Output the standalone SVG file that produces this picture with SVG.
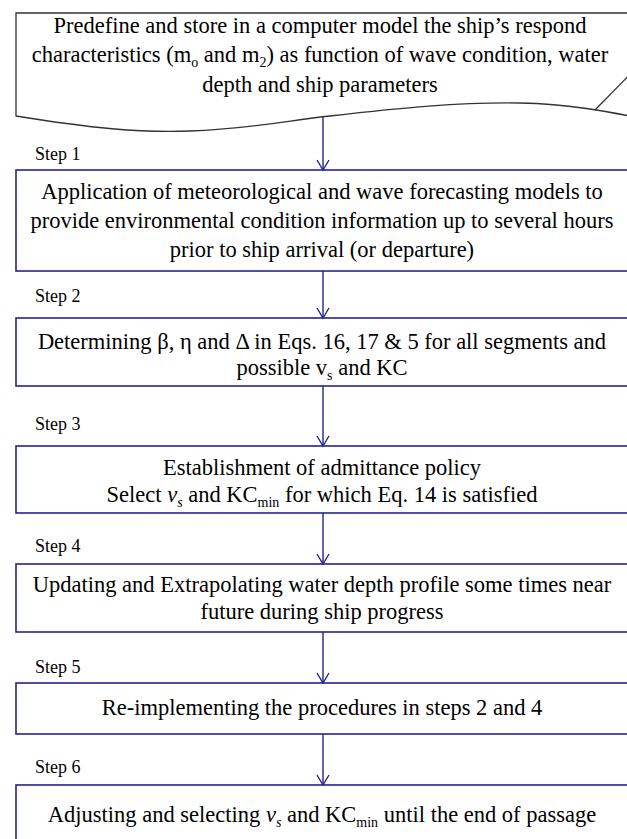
<svg xmlns="http://www.w3.org/2000/svg" width="627" height="839" viewBox="0 0 627 839">
<style>
  .box { fill: #ffffff; stroke: #23238e; stroke-width: 1.6; }
  .doc { fill: #ffffff; stroke: #333333; stroke-width: 1.3; }
  .t { font-family: "Liberation Serif", "Times New Roman", Times, serif; font-size: 22.5px; fill: #000; text-anchor: middle; }
  .step { font-family: "Liberation Serif", "Times New Roman", Times, serif; font-size: 18px; fill: #000; }
  .sub { font-size: 14px; }
  .it { font-style: italic; }
  .conn { stroke: #23238e; stroke-width: 1.4; fill: none; marker-end: url(#arr); }
</style>
<defs>
  <marker id="arr" viewBox="0 0 12 14" refX="11" refY="7" markerWidth="12" markerHeight="14" markerUnits="userSpaceOnUse" orient="auto">
    <path d="M1,1 L11,7 L1,13" fill="none" stroke="#23238e" stroke-width="1.4"/>
  </marker>
</defs>
<rect width="627" height="839" fill="#ffffff"/>

<g id="node-start">
  <path class="doc" d="M16,13 L645,13 L645,119 C610,112 570,104 520,103 C460,102 400,108 330,116 C290,120 250,129 190,131 C140,133 90,128 16,116 Z"/>
  <line x1="595" y1="110" x2="645" y2="59" stroke="#333333" stroke-width="1.3"/>
  <text class="t" x="320" y="33">Predefine and store in a computer model the ship’s respond</text>
  <text class="t" x="320" y="62">characteristics (m<tspan class="sub" dy="5">o</tspan><tspan dy="-5"> and m</tspan><tspan class="sub" dy="5">2</tspan><tspan dy="-5">) as function of wave condition, water</tspan></text>
  <text class="t" x="320" y="92">depth and ship parameters</text>
</g>

<g id="node-step1">
  <text class="step" x="35" y="160">Step 1</text>
  <rect class="box" x="16" y="170" width="630" height="101"/>
  <text class="t" x="322" y="199">Application of meteorological and wave forecasting models to</text>
  <text class="t" x="322" y="228">provide environmental condition information up to several hours</text>
  <text class="t" x="322" y="257">prior to ship arrival (or departure)</text>
</g>

<g id="node-step2">
  <text class="step" x="35" y="302">Step 2</text>
  <rect class="box" x="16" y="318" width="630" height="68"/>
  <text class="t" x="322" y="349">Determining β, η and Δ in Eqs. 16, 17 &amp; 5 for all segments and</text>
  <text class="t" x="322" y="375">possible v<tspan class="sub" dy="5">s</tspan><tspan dy="-5"> and KC</tspan></text>
</g>

<g id="node-step3">
  <text class="step" x="35" y="430">Step 3</text>
  <rect class="box" x="16" y="446" width="630" height="67"/>
  <text class="t" x="322" y="475">Establishment of admittance policy</text>
  <text class="t" x="322" y="502">Select <tspan class="it">v</tspan><tspan class="sub it" dy="5">s</tspan><tspan dy="-5"> and KC</tspan><tspan class="sub" dy="5">min</tspan><tspan dy="-5">  for which Eq. 14 is satisfied</tspan></text>
</g>

<g id="node-step4">
  <text class="step" x="35" y="552">Step 4</text>
  <rect class="box" x="16" y="564" width="630" height="68"/>
  <text class="t" x="322" y="592">Updating and Extrapolating water depth profile some times near</text>
  <text class="t" x="322" y="619">future during ship progress</text>
</g>

<g id="node-step5">
  <text class="step" x="35" y="673">Step 5</text>
  <rect class="box" x="16" y="683" width="630" height="51"/>
  <text class="t" x="322" y="715">Re-implementing the procedures in steps 2 and 4</text>
</g>

<g id="node-step6">
  <text class="step" x="35" y="773">Step 6</text>
  <rect class="box" x="16" y="785" width="630" height="70"/>
  <text class="t" x="322" y="822">Adjusting and selecting <tspan class="it">v</tspan><tspan class="sub it" dy="5">s</tspan><tspan dy="-5"> and KC</tspan><tspan class="sub" dy="5">min</tspan><tspan dy="-5"> until the end of  passage</tspan></text>
</g>

<g id="connectors">
  <line class="conn" x1="323" y1="116" x2="323" y2="170"/>
  <line class="conn" x1="323" y1="271" x2="323" y2="318"/>
  <line class="conn" x1="323" y1="386" x2="323" y2="446"/>
  <line class="conn" x1="323" y1="513" x2="323" y2="564"/>
  <line class="conn" x1="323" y1="632" x2="323" y2="683"/>
  <line class="conn" x1="323" y1="734" x2="323" y2="785"/>
</g>
</svg>
